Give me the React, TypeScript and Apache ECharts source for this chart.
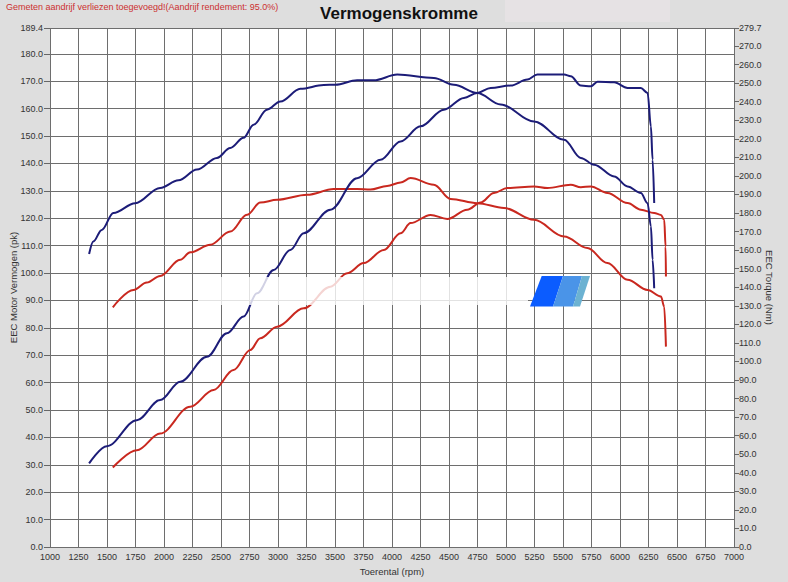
import React, { useEffect, useRef } from "react";
import * as echarts from "echarts";

// ---- data ----
const bluePowerRpm = [1343, 1498, 1762, 1966, 2142, 2377, 2552, 2698, 2816, 2962, 3108, 3225, 3460, 3694, 3899, 4075, 4250, 4455, 4631, 4748, 4865, 5041, 5188, 5275, 5510, 5568, 5656, 5744, 5803, 5949, 6066, 6183, 6242, 6271, 6286, 6300];
const bluePowerPk = [30.5, 36.8, 46.3, 53.6, 60.3, 69.4, 78.0, 84.1, 92.6, 101.1, 108.4, 114.5, 123.1, 134.6, 141.3, 148.0, 153.5, 159.6, 163.9, 165.7, 167.5, 168.4, 170.6, 172.4, 172.4, 171.8, 168.4, 168.1, 169.8, 169.6, 167.5, 167.5, 165.7, 153.5, 141.3, 125.5];

const blueTorqueRpm = [1343, 1380, 1454, 1556, 1747, 1966, 2127, 2289, 2464, 2581, 2698, 2786, 2903, 3021, 3196, 3401, 3504, 3694, 3840, 4046, 4367, 4543, 4748, 4953, 5246, 5510, 5656, 5773, 5949, 6066, 6183, 6242, 6271, 6286, 6300];
const blueTorqueNm = [157.9, 164.7, 170.9, 180.0, 185.3, 193.5, 197.6, 203.4, 209.7, 215.0, 220.5, 227.6, 235.7, 240.1, 246.9, 249.0, 249.1, 251.5, 251.5, 254.6, 252.8, 249.1, 244.7, 238.5, 229.3, 219.5, 209.7, 206.0, 199.7, 194.3, 190.8, 185.3, 172.8, 154.8, 139.4];

const redPowerRpm = [1551, 1762, 1966, 2230, 2435, 2610, 2757, 2845, 2992, 3225, 3460, 3606, 3752, 3928, 4075, 4163, 4338, 4485, 4660, 4777, 4894, 5011, 5246, 5363, 5568, 5656, 5744, 5890, 6066, 6183, 6300, 6359, 6388, 6400, 6403];
const redPowerPk = [29.0, 35.3, 41.4, 51.2, 57.3, 64.6, 71.9, 76.2, 80.4, 87.1, 95.0, 99.9, 103.6, 108.4, 114.5, 118.2, 121.2, 119.7, 123.1, 125.7, 129.2, 131.0, 131.6, 131.0, 132.2, 131.3, 131.6, 129.2, 125.5, 123.1, 121.9, 121.2, 119.4, 109.6, 98.7];

const redTorqueRpm = [1551, 1732, 1849, 1966, 2142, 2230, 2406, 2581, 2728, 2845, 2992, 3255, 3489, 3694, 3811, 3957, 4075, 4163, 4367, 4514, 4748, 4982, 5246, 5510, 5714, 5890, 6066, 6242, 6359, 6388, 6403];
const redTorqueNm = [129.2, 138.5, 142.5, 146.1, 154.8, 158.8, 162.9, 170.0, 179.0, 185.6, 187.1, 189.8, 192.9, 192.9, 192.6, 194.6, 196.4, 198.8, 195.2, 187.6, 185.3, 182.7, 176.3, 167.3, 161.1, 153.0, 144.0, 138.5, 135.0, 129.5, 108.0];

const titleText = "Vermogenskromme";
const noteText = "Gemeten aandrijf verliezen toegevoegd!(Aandrijf rendement: 95.0%)";
const xName = "Toerental (rpm)";
const leftName = "EEC Motor Vermogen (pk)";
const rightName = "EEC Torque (Nm)";

const zip = (xs: number[], ys: number[]) => xs.map((x, i) => [x, ys[i]]);

const FONT = "'Liberation Sans', Arial, sans-serif";
const BLUE = "#1c1c78";
const RED = "#c9281f";
const GRIDLINE = "#6e6e6e";
const LABEL_SIZE = 9;

export default function App() {
  const ref = useRef<HTMLDivElement>(null);
  useEffect(() => {
    if (!ref.current) return;
    const chart = echarts.init(ref.current, undefined, { renderer: "svg" });
    const lineBase = {
      type: "line",
      showSymbol: false,
      smooth: 0.35,
      smoothMonotone: "x",
      lineStyle: { width: 2 },
    };
    chart.setOption({
      animation: false,
      backgroundColor: "#dedede",
      textStyle: { fontFamily: FONT },
      title: {
        text: titleText,
        left: 394,
        textAlign: "center",
        top: 0,
        textStyle: { fontSize: 17, fontWeight: "bold", color: "#111", fontFamily: FONT },
      },
      grid: {
        left: 50,
        right: 54,
        top: 28,
        bottom: 35,
        show: true,
        backgroundColor: "#ffffff",
        borderWidth: 0,
        containLabel: false,
        outerBoundsMode: "none",
      },
      xAxis: {
        type: "value",
        min: 1000,
        max: 7000,
        interval: 250,
        name: xName,
        nameLocation: "middle",
        nameGap: 19,
        nameMoveOverlap: false,
        nameTextStyle: { fontSize: 9.5, color: "#333", fontFamily: FONT },
        axisLine: { show: false },
        axisTick: { show: false },
        axisLabel: { fontSize: LABEL_SIZE, color: "#333", margin: 5, formatter: (v: number) => String(v), fontFamily: FONT },
        splitLine: { show: true, lineStyle: { color: GRIDLINE, width: 1 } },
      },
      yAxis: [
        {
          type: "value",
          position: "left",
          min: 0,
          max: 189.4,
          interval: 10,
          name: leftName,
          nameLocation: "middle",
          nameGap: 32,
          nameMoveOverlap: false,
          nameTextStyle: { fontSize: 9.5, color: "#333", fontFamily: FONT },
          axisLine: { show: false },
          axisTick: { show: true, length: 6, lineStyle: { color: "#666" } },
          axisLabel: { fontSize: LABEL_SIZE, color: "#333", margin: 7, formatter: (v: number) => v.toFixed(1), fontFamily: FONT },
          splitLine: { show: true, lineStyle: { color: GRIDLINE, width: 1 } },
        },
        {
          type: "value",
          position: "right",
          min: 0,
          max: 279.7,
          interval: 10,
          name: rightName,
          nameLocation: "middle",
          nameGap: 30,
          nameRotate: -90,
          nameMoveOverlap: false,
          nameTextStyle: { fontSize: 9.5, color: "#333", fontFamily: FONT },
          axisLine: { show: false },
          axisTick: { show: true, length: 5, lineStyle: { color: "#666" } },
          axisLabel: { fontSize: LABEL_SIZE, color: "#333", margin: 5, formatter: (v: number) => v.toFixed(1), fontFamily: FONT },
          splitLine: { show: false },
        },
      ],
      series: [
        { ...lineBase, name: "P stock", yAxisIndex: 0, data: zip(redPowerRpm, redPowerPk), lineStyle: { width: 2, color: RED }, itemStyle: { color: RED } },
        { ...lineBase, name: "T stock", yAxisIndex: 1, data: zip(redTorqueRpm, redTorqueNm), lineStyle: { width: 2, color: RED }, itemStyle: { color: RED } },
        { ...lineBase, name: "P tuned", yAxisIndex: 0, data: zip(bluePowerRpm, bluePowerPk), lineStyle: { width: 2, color: BLUE }, itemStyle: { color: BLUE } },
        { ...lineBase, name: "T tuned", yAxisIndex: 1, data: zip(blueTorqueRpm, blueTorqueNm), lineStyle: { width: 2, color: BLUE }, itemStyle: { color: BLUE } },
      ],
      graphic: [
        { type: "rect", z: -1, shape: { x: 505, y: 0, width: 165, height: 22 }, style: { fill: "#e6e2e4" } },
        { type: "text", left: 6, top: 2, style: { text: noteText, fill: "#cc3030", fontSize: 9, fontFamily: FONT } },
        { type: "rect", z: 100, shape: { x: 198, y: 277, width: 330, height: 28 }, style: { fill: "rgba(255,255,255,0.8)" } },
        { type: "polygon", z: 101, shape: { points: [[541.7, 276], [563, 276], [553, 306.5], [530, 306.5]] }, style: { fill: "#0b5cff" } },
        { type: "polygon", z: 101, shape: { points: [[563, 276], [582, 276], [573, 306.5], [553, 306.5]] }, style: { fill: "#4a94e8" } },
        { type: "polygon", z: 101, shape: { points: [[582, 276], [590, 276], [580, 306.5], [573, 306.5]] }, style: { fill: "#6cb2d2" } },
      ],
    });
    return () => chart.dispose();
  }, []);
  return <div ref={ref} style={{ position: "fixed", left: 0, top: 0, width: 788, height: 582 }} />;
}
